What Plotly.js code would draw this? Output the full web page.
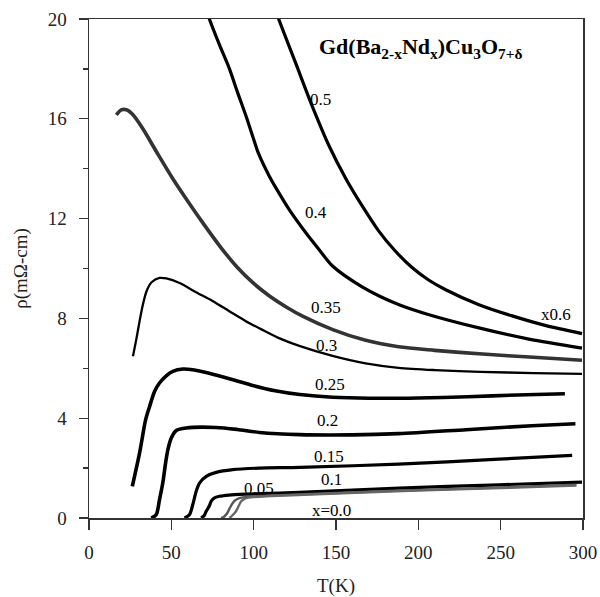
<!DOCTYPE html>
<html>
<head>
<meta charset="utf-8">
<script src="https://cdn.plot.ly/plotly-3.0.1.min.js"></script>
<style>html,body{margin:0;padding:0;background:#fff;}#chart{width:600px;height:597px;}</style>
</head>
<body>
<div id="chart"></div>
<script>
// Temperature (K) and resistivity (mOhm-cm) for each Nd content x
var T_x050 = [110, 115.2, 125.7, 135, 145.9, 156, 166, 176, 186, 196, 206, 216.6, 236.8, 257, 277, 299.4];
var R_x050 = [21.0, 20.0, 18.2, 16.6, 14.9, 13.6, 12.5, 11.5, 10.7, 10.05, 9.55, 9.15, 8.55, 8.1, 7.72, 7.39];

var T_x040 = [70, 73.1, 79, 85.3, 90, 95.4, 100.4, 103, 109.5, 115.6, 121.6, 131.8, 139.8, 147.9, 166.1, 176.2, 188.3, 206.5, 236.8, 267.1, 299.4];
var R_x040 = [20.6, 20.0, 19.0, 18.0, 17.1, 16.1, 15.1, 14.6, 13.7, 13.0, 12.36, 11.42, 10.75, 10.1, 9.25, 8.9, 8.55, 8.15, 7.62, 7.17, 6.81];

var T_x035 = [16.6, 19.6, 22.7, 26.7, 32.7, 40.8, 50.9, 60, 70, 80, 90, 100, 110, 120, 130, 148, 168, 188, 210, 239, 270, 299.4];
var R_x035 = [16.16, 16.36, 16.36, 16.16, 15.6, 14.7, 13.6, 12.7, 11.75, 10.85, 10.05, 9.4, 8.88, 8.45, 8.08, 7.55, 7.12, 6.86, 6.72, 6.57, 6.44, 6.32];

var T_x030 = [26.7, 28.7, 30.7, 32.7, 35, 38, 42.8, 47, 55, 65, 75, 85, 95, 105, 115, 127.7, 147.9, 168, 188, 210, 237.8, 270, 299.4];
var R_x030 = [6.48, 7.15, 7.88, 8.55, 9.1, 9.45, 9.62, 9.6, 9.42, 9.05, 8.7, 8.3, 7.9, 7.55, 7.22, 6.9, 6.5, 6.2, 6.02, 5.93, 5.86, 5.81, 5.78];

var T_x025 = [26.3, 30.7, 34.4, 36.8, 39.8, 42.8, 46.9, 50.9, 57, 63, 73, 87, 100, 113, 128, 148, 170, 200, 230, 260, 289];
var R_x025 = [1.27, 2.6, 3.94, 4.47, 5.07, 5.41, 5.7, 5.88, 5.97, 5.94, 5.8, 5.55, 5.3, 5.1, 4.95, 4.84, 4.8, 4.81, 4.86, 4.93, 4.98];

var T_x020 = [37.8, 40.8, 42.8, 44.8, 46.5, 47.9, 49.9, 53, 59, 77, 90, 103.5, 128, 160, 188, 229, 269, 295.4];
var R_x020 = [0, 0.13, 0.73, 1.4, 2.2, 2.74, 3.2, 3.51, 3.61, 3.63, 3.55, 3.43, 3.34, 3.33, 3.38, 3.54, 3.7, 3.78];

var T_x015 = [58, 61, 63, 65.1, 67.1, 71.2, 77.2, 87.3, 103.5, 128, 188, 249, 293.4];
var R_x015 = [0, 0.13, 0.53, 1.07, 1.4, 1.67, 1.83, 1.94, 2.0, 2.03, 2.16, 2.36, 2.51];

var T_x010 = [68.1, 70, 71.2, 73.2, 74.2, 76, 79.2, 85, 97.4, 127.7, 188.3, 248.9, 299.4];
var R_x010 = [0, 0.1, 0.27, 0.5, 0.67, 0.8, 0.87, 0.92, 0.96, 1.03, 1.2, 1.33, 1.44];

var T_x005 = [80.2, 82, 84, 85.5, 87.3, 89, 91.3, 95, 101.5, 130, 190, 250, 296];
var R_x005 = [0, 0.05, 0.2, 0.4, 0.6, 0.72, 0.8, 0.84, 0.87, 0.95, 1.1, 1.22, 1.33];

var T_x000 = [85.3, 87, 89.3, 91, 92.4, 94, 95.4, 100, 130, 190, 250, 296];
var R_x000 = [0, 0.1, 0.27, 0.5, 0.67, 0.75, 0.8, 0.84, 0.93, 1.08, 1.2, 1.3];

// Curve labels and their positions (data coords)
var labelText = ["0.5", "0.4", "0.35", "0.3", "0.25", "0.2", "0.15", "0.1", "0.05", "x=0.0", "x0.6"];
var labelT    = [140.4, 138, 144, 144, 146.5, 144.7, 145.9, 147, 103.5, 147, 283.5];
var labelR    = [16.76, 12.24, 8.43, 6.9, 5.34, 3.9, 2.46, 1.53, 1.2, 0.3, 8.15];

var serif = "'Liberation Serif', 'Times New Roman', serif";

function tr(x, y, w, c) {
  return {x: x, y: y, type: 'scatter', mode: 'lines',
          line: {color: c, width: w, shape: 'spline', smoothing: 0.8},
          showlegend: false, hoverinfo: 'skip'};
}

var data = [
  tr(T_x050, R_x050, 3.2, '#000'),
  tr(T_x040, R_x040, 3.2, '#000'),
  tr(T_x035, R_x035, 3.6, '#333'),
  tr(T_x030, R_x030, 2.3, '#000'),
  tr(T_x025, R_x025, 3.6, '#000'),
  tr(T_x020, R_x020, 3.6, '#000'),
  tr(T_x015, R_x015, 3.2, '#000'),
  tr(T_x010, R_x010, 3.2, '#000'),
  tr(T_x005, R_x005, 2.4, '#555'),
  tr(T_x000, R_x000, 2.4, '#666')
];

var annotations = labelText.map(function (t, i) {
  return {x: labelT[i], y: labelR[i], xref: 'x', yref: 'y', text: t, showarrow: false,
          font: {family: serif, size: 17, color: '#000'}};
});
annotations.push({x: 201.6, y: 18.83, xref: 'x', yref: 'y', showarrow: false,
  text: '<b>Gd(Ba<sub>2-x</sub>Nd<sub>x</sub>)Cu<sub>3</sub>O<sub>7+δ</sub></b>',
  font: {family: serif, size: 22, color: '#000'}});

var layout = {
  width: 600, height: 597,
  margin: {l: 89, r: 17, t: 19, b: 79},
  paper_bgcolor: '#fff', plot_bgcolor: '#fff',
  font: {family: serif, size: 19, color: '#222'},
  xaxis: {
    range: [0, 300], tickmode: 'linear', tick0: 0, dtick: 50,
    ticks: 'outside', ticklen: 10, tickwidth: 1.3, tickcolor: '#333',
    ticklabelstandoff: 7,
    showline: true, mirror: true, linecolor: '#333', linewidth: 1.5,
    showgrid: false, zeroline: false,
    tickfont: {family: serif, size: 19, color: '#222'},
    title: {text: 'T(K)', font: {family: serif, size: 19, color: '#222'}, standoff: 17}
  },
  yaxis: {
    range: [0, 20], tickmode: 'linear', tick0: 0, dtick: 4,
    ticks: 'outside', ticklen: 9, tickwidth: 1.3, tickcolor: '#333',
    ticklabelstandoff: 8,
    minor: {tickmode: 'linear', tick0: 0, dtick: 2, ticks: 'outside', ticklen: 5, tickwidth: 1.3, tickcolor: '#333'},
    showline: true, mirror: true, linecolor: '#333', linewidth: 1.5,
    showgrid: false, zeroline: false,
    tickfont: {family: serif, size: 19, color: '#222'},
    title: {text: 'ρ(mΩ-cm)', font: {family: serif, size: 19, color: '#222'}, standoff: 15}
  },
  annotations: annotations
};

Plotly.newPlot('chart', data, layout, {displayModeBar: false, staticPlot: true});
</script>
</body>
</html>
